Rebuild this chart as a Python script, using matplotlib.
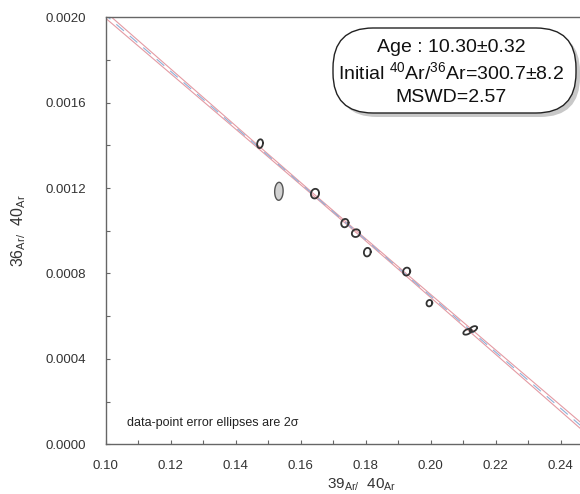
import numpy as np
import matplotlib
matplotlib.use('Agg')
import matplotlib.pyplot as plt
from matplotlib.patches import FancyBboxPatch
from matplotlib.ticker import MultipleLocator, FormatStrFormatter

plt.rcParams['font.family'] = ['Liberation Sans', 'DejaVu Sans']
plt.rcParams['mathtext.fontset'] = 'custom'
plt.rcParams['mathtext.rm'] = 'Liberation Sans'
plt.rcParams['mathtext.it'] = 'Liberation Sans:italic'

# точки (39Ar/40Ar, 36Ar/40Ar) и полуоси эллипсов 2σ
x_vals = [0.1475, 0.1533, 0.1644, 0.1736, 0.1770, 0.1805, 0.1926, 0.1996, 0.2113, 0.2131]
y_vals = [0.001408, 0.001185, 0.001174, 0.001036, 0.000989, 0.000900, 0.000809, 0.000661, 0.000527, 0.000540]
sx_vals = [0.00090, 0.00130, 0.00125, 0.00112, 0.00125, 0.00105, 0.00110, 0.00088, 0.00125, 0.00115]
sy_vals = [0.0000205, 0.0000420, 0.0000225, 0.0000195, 0.0000180, 0.0000200, 0.0000185, 0.0000150, 0.0000135, 0.0000135]
rho_vals = [0.15, 0.05, 0.1, 0.1, 0.1, 0.1, 0.1, 0.1, 0.45, 0.45]
excluded = [False, True, False, False, False, False, False, False, False, False]

# изохрона
intercept = 1 / 300.7
slope = -0.013154
env_w0 = 0.0000047
env_c = 0.000190
env_xc = 0.172

fig = plt.figure(figsize=(5.8, 4.94), dpi=100)
ax = fig.add_axes([0.1822, 0.1006, 0.8405, 0.8644])

xs = np.linspace(0.095, 0.26, 300)
center = intercept + slope * xs
w = np.sqrt(env_w0**2 + (env_c * (xs - env_xc))**2)
ax.plot(xs, center + w, color='#e49aa3', lw=0.8)
ax.plot(xs, center - w, color='#e49aa3', lw=0.8)
ax.plot(xs, center, color='#8fb0d8', lw=0.8, dashes=(9, 7))

t = np.linspace(0, 2 * np.pi, 100)
for cx, cy, sx, sy, r, ex in zip(x_vals, y_vals, sx_vals, sy_vals, rho_vals, excluded):
    ex_x = cx + sx * np.cos(t)
    ex_y = cy + sy * (r * np.cos(t) + np.sqrt(1 - r**2) * np.sin(t))
    if ex:
        ax.fill(ex_x, ex_y, facecolor='#d2d2d2', edgecolor='#555555', lw=1.0, zorder=3)
    else:
        ax.plot(ex_x, ex_y, color='#333333', lw=1.3, zorder=3)

ax.set_xlim(0.10, 0.25)
ax.set_ylim(0.0, 0.0020)
ax.xaxis.set_major_locator(MultipleLocator(0.02))
ax.xaxis.set_minor_locator(MultipleLocator(0.01))
ax.yaxis.set_major_locator(MultipleLocator(0.0004))
ax.yaxis.set_minor_locator(MultipleLocator(0.0002))
ax.xaxis.set_major_formatter(FormatStrFormatter('%.2f'))
ax.yaxis.set_major_formatter(FormatStrFormatter('%.4f'))
ax.tick_params(which='both', direction='in', length=3, width=0.8, color='#666666',
               labelsize=9.5, labelcolor='#333333')
ax.tick_params(axis='x', pad=11)
ax.tick_params(axis='y', pad=14)
for s in ax.spines.values():
    s.set_color('#666666')
    s.set_linewidth(1.0)

ax.set_xlabel(r'$\mathregular{39_{Ar/}\ \ 40_{Ar}}$', fontsize=11, color='#333333')
ax.xaxis.set_label_coords(0.525, -0.075)
ax.set_ylabel(r'$\mathregular{36_{Ar/}\ \ 40_{Ar}}$', fontsize=11.5, color='#333333')
ax.yaxis.set_label_coords(-0.16, 0.5)

ax.text(0.043, 0.049, 'data-point error ellipses are 2σ', transform=ax.transAxes,
        fontsize=9, color='#222222', va='center')

# рамка с результатами
bx, by, bw, bh = 333, 494 - 113, 243, 85
shadow = FancyBboxPatch((bx + 4, by - 4), bw, bh, boxstyle='round,pad=0,rounding_size=40',
                        transform=None, facecolor='#c8c8c8', edgecolor='none', zorder=5)
box = FancyBboxPatch((bx, by), bw, bh, boxstyle='round,pad=0,rounding_size=40',
                     transform=None, facecolor='white', edgecolor='#222222', lw=1.0, zorder=6)
fig.patches.extend([shadow, box])
lines = ['Age : 10.30±0.32',
         r'Initial $\mathregular{^{40}}$Ar/$\mathregular{^{36}}$Ar=300.7±8.2',
         'MSWD=2.57']
for i, s in enumerate(lines):
    fig.text(451 / 580, (494 - 48 - 24.5 * i) / 494, s, ha='center', va='center',
             fontsize=14, color='#111111', zorder=7)

fig.savefig('out.png', dpi=100)
